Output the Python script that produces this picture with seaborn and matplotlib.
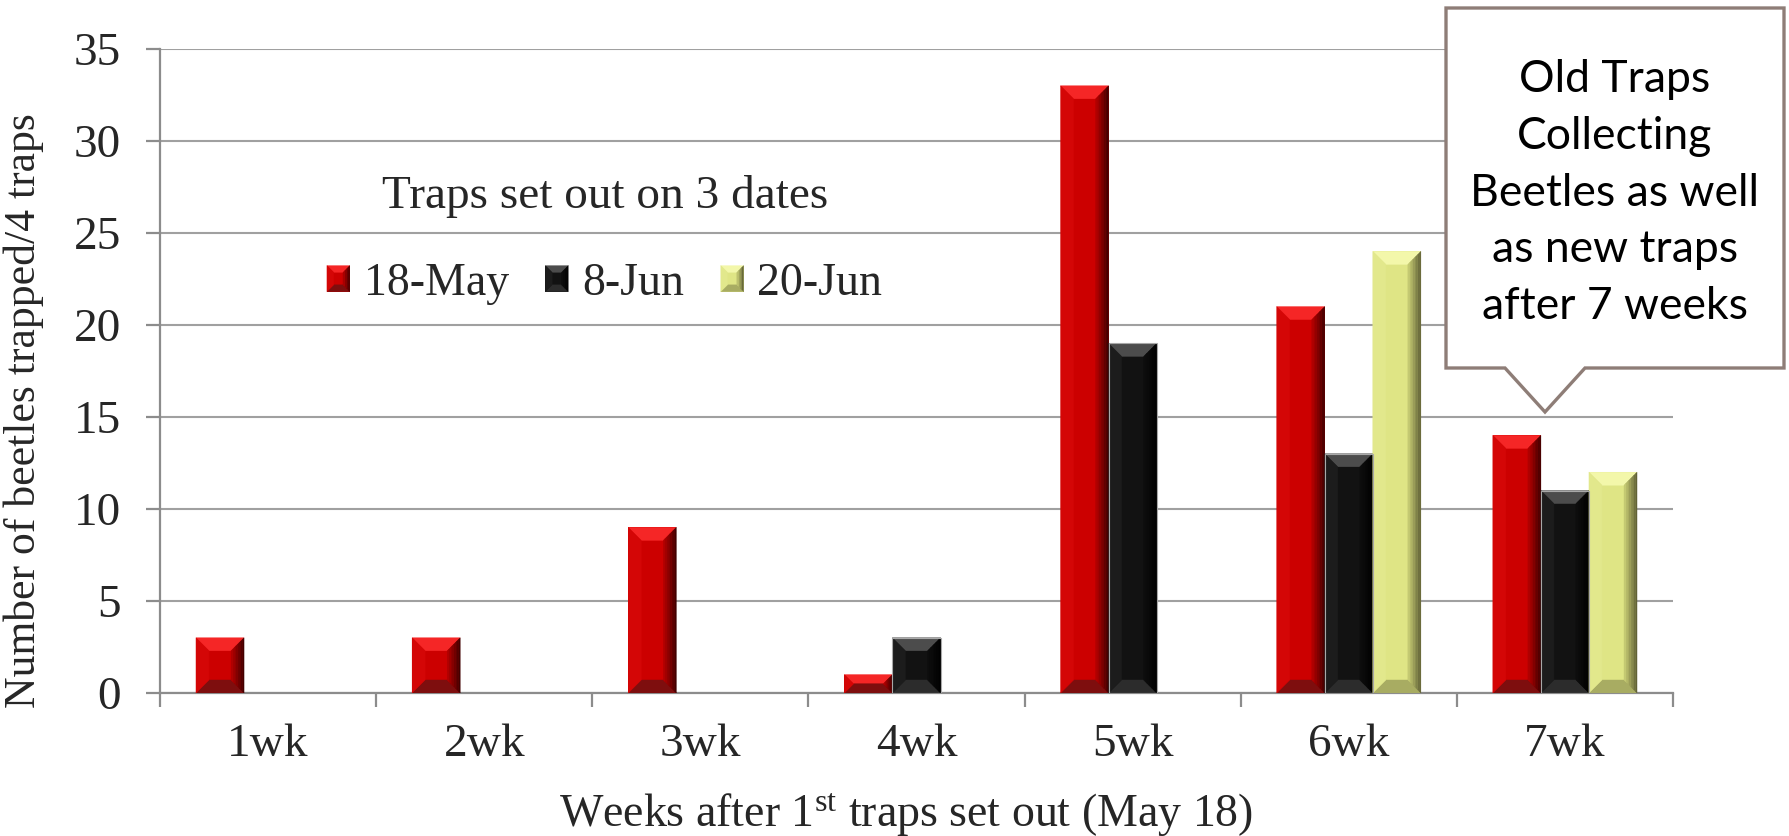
import numpy as np
import pandas as pd
import matplotlib
matplotlib.use("Agg")
import matplotlib.pyplot as plt
import seaborn as sns
from matplotlib.patches import Polygon, Rectangle
from matplotlib.legend_handler import HandlerBase

# ---- data -------------------------------------------------------------
weeks = ["1wk", "2wk", "3wk", "4wk", "5wk", "6wk", "7wk"]
dates = ["18-May", "8-Jun", "20-Jun"]
may18 = [3, 3, 9, 1, 33, 21, 14]
jun8 = [np.nan, np.nan, np.nan, 3, 19, 13, 11]
jun20 = [np.nan, np.nan, np.nan, np.nan, np.nan, 24, 12]
y_ticks = [0, 5, 10, 15, 20, 25, 30, 35]

legend_title = "Traps set out on 3 dates"
x_title = "Weeks after 1$^{\\mathrm{st}}$ traps set out (May 18)"
y_title = "Number of beetles trapped/4 traps"
note = "Old Traps\nCollecting\nBeetles as well\nas new traps\nafter 7 weeks"

# ---- style ------------------------------------------------------------
base = {"18-May": "#CC0000", "8-Jun": "#121212", "20-Jun": "#DFE585"}
# top, left, bottom, right-gradient start, right-gradient end
shades = {
    "18-May": ("#F52626", "#D40606", "#7E0E0E", "#B80000", "#3A0000"),
    "8-Jun": ("#4C4C4C", "#1C1C1C", "#2C2C2C", "#0E0E0E", "#000000"),
    "20-Jun": ("#F3F7AA", "#E2E88C", "#A8AC62", "#CBD076", "#5A5A32"),
}
outline = {"18-May": None, "8-Jun": "#A8A8A8", "20-Jun": None}
GRID = "#A0A0A0"
SERIF = ["Liberation Serif", "DejaVu Serif"]

sns.set_theme(style="white")
plt.rcParams["font.family"] = SERIF
plt.rcParams["mathtext.fontset"] = "custom"
plt.rcParams["mathtext.rm"] = "Liberation Serif"
plt.rcParams["mathtext.it"] = "Liberation Serif:italic"

W, H = 1790, 836
fig = plt.figure(figsize=(W / 100, H / 100), dpi=100)
fig.patch.set_facecolor("white")
ax = fig.add_axes([160 / W, 143 / H, 1513 / W, 644 / H])

df = pd.DataFrame({
    "week": weeks * 3,
    "date": [dates[0]] * 7 + [dates[1]] * 7 + [dates[2]] * 7,
    "count": may18 + jun8 + jun20,
}).dropna()

sns.barplot(data=df, x="week", y="count", hue="date", order=weeks,
            hue_order=dates, palette=base, width=0.667, saturation=1,
            errorbar=None, legend=False, linewidth=0, zorder=3, ax=ax)

ax.set_xlim(-0.5, len(weeks) - 0.5)
ax.set_ylim(0, 35)
ax.set_yticks(y_ticks)
ax.set_axisbelow(True)
ax.yaxis.grid(True, color=GRID, linewidth=1.5)
ax.xaxis.grid(False)
for side in ("top", "right"):
    ax.spines[side].set_visible(False)
for side in ("left", "bottom"):
    ax.spines[side].set_color("#8C8C8C")
    ax.spines[side].set_linewidth(1.6)

ax.set_xticks(np.arange(-0.5, len(weeks), 1.0), minor=True)
ax.tick_params(axis="x", which="major", length=0, pad=22, labelsize=34)
ax.tick_params(axis="x", which="minor", direction="out", length=10,
               width=1.6, color="#8C8C8C", bottom=True)
ax.tick_params(axis="y", direction="out", length=10, width=1.6,
               color="#8C8C8C", pad=18, labelsize=34, left=True)

ax.set_xlabel(x_title, fontsize=33)
ax.set_ylabel(y_title, fontsize=31.5)
ax.xaxis.set_label_coords(0.493, -0.189)
ax.xaxis.label.set_va("center")
ax.yaxis.set_label_coords(-0.090, 0.438)
ax.yaxis.label.set_va("center")


# ---- bevelled bar faces -----------------------------------------------
def bevel_polys(X0, Y0, X1, Y1, b, sh, n=8):
    top, left, bottom, rfrom, rto = sh
    polys = [
        ([(X0, Y1), (X1, Y1), (X1 - b, Y1 - b), (X0 + b, Y1 - b)], top),
        ([(X0, Y0), (X1, Y0), (X1 - b, Y0 + b), (X0 + b, Y0 + b)], bottom),
        ([(X0, Y0), (X0 + b, Y0 + b), (X0 + b, Y1 - b), (X0, Y1)], left),
    ]
    c0 = np.array(matplotlib.colors.to_rgb(rfrom))
    c1 = np.array(matplotlib.colors.to_rgb(rto))
    for i in range(n):
        da, db = b * i / n, b * (i + 1) / n
        c = c0 + (c1 - c0) * (1 - (i + 0.5) / n)
        polys.append(([(X1 - da, Y0 + da), (X1 - da, Y1 - da),
                       (X1 - db, Y1 - db), (X1 - db, Y0 + db)], tuple(c)))
    return polys


inv = ax.transData.inverted()
for name, cont in zip(dates, ax.containers):
    for rect in cont.patches:
        h = rect.get_height()
        if not np.isfinite(h) or h <= 0:
            continue
        x0, y0 = rect.get_x(), rect.get_y()
        X0, Y0 = ax.transData.transform((x0, y0))
        X1, Y1 = ax.transData.transform((x0 + rect.get_width(), y0 + h))
        b = min(13.0, (X1 - X0) / 2, (Y1 - Y0) / 2)
        for pts, col in bevel_polys(X0, Y0, X1, Y1, b, shades[name]):
            ax.add_patch(Polygon(inv.transform(pts), closed=True, fc=col,
                                 ec=col, lw=0.3, zorder=4))
        if outline[name]:
            ax.add_patch(Rectangle((x0, y0), rect.get_width(), h, fc="none",
                                   ec=outline[name], lw=0.8, zorder=5))


class BevelSquare(HandlerBase):
    def create_artists(self, legend, orig_handle, xdescent, ydescent,
                       width, height, fontsize, trans):
        name = orig_handle.get_label()
        x0, y0 = -xdescent, -ydescent
        x1, y1 = x0 + width, y0 + height
        arts = [Rectangle((x0, y0), width, height, fc=base[name], ec="none",
                          transform=trans)]
        for pts, col in bevel_polys(x0, y0, x1, y1, width * 0.3,
                                    shades[name], n=4):
            arts.append(Polygon(pts, closed=True, fc=col, ec=col, lw=0.2,
                                transform=trans))
        return arts


handles = [Rectangle((0, 0), 1, 1, fc=base[d], label=d) for d in dates]
leg = ax.legend(handles, dates, title=legend_title, ncol=3, frameon=False,
                loc="upper left", bbox_to_anchor=(304 / W, 1 - 152 / H),
                bbox_transform=fig.transFigure, fontsize=33,
                title_fontsize=34, handlelength=0.5, handleheight=0.5,
                handletextpad=0.3, columnspacing=0.8, labelspacing=0.97,
                borderpad=0, handler_map={Rectangle: BevelSquare()})

# ---- callout ----------------------------------------------------------
box = [(1446, 8), (1784, 8), (1784, 368), (1585, 368), (1545, 412),
       (1505, 368), (1446, 368)]
fig.add_artist(Polygon([(x / W, 1 - y / H) for x, y in box], closed=True,
                       transform=fig.transFigure, fc="white", ec="#8E7D77",
                       lw=2.4, joinstyle="miter", zorder=10))
fig.text(1615 / W, 1 - 193 / H, note, ha="center", va="center",
         fontsize=32, family=["Lato", "DejaVu Sans"], linespacing=1.48,
         color="black", zorder=11)

fig.savefig("out.png", dpi=100, facecolor="white")
